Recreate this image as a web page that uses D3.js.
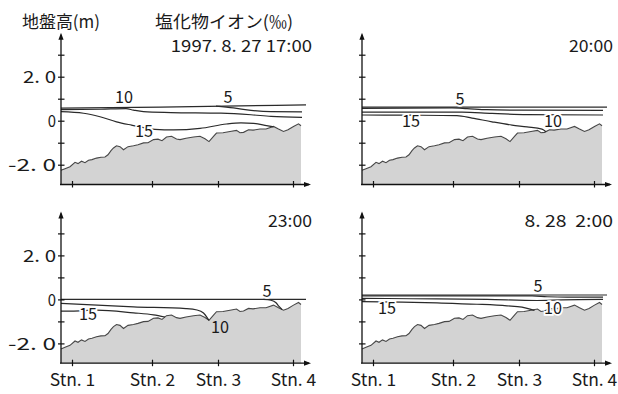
<!DOCTYPE html>
<html>
<head>
<meta charset="utf-8">
<script src="https://cdn.jsdelivr.net/npm/d3@7"></script>
<style>
  html, body { margin: 0; padding: 0; background: #fff; }
  svg { display: block; }
  text { font-family: "Noto Sans CJK JP", "Noto Sans", sans-serif; fill: #1a1a1a; white-space: pre; }
</style>
</head>
<body>
<svg id="chart" width="618" height="394"></svg>
<script>
// ---- Data -----------------------------------------------------------------
// Station positions along the section (km from the left end of the profile)
const stations = [0.22, 1.82, 3.14, 4.64];
const stationLabels = ["Stn. 1", "Stn. 2", "Stn. 3", "Stn. 4"];

// Elevation ticks (m) and the ones that carry a printed label
const yTicks = [-2, -1, 0, 1, 2, 3];
const yTickLabels = { "2": "2. 0", "0": "0", "-2": "-2. 0" };

// Observation times, one panel each
const times = ["1997. 8. 27 17:00", "20:00", "23:00", "8. 28  2:00"];

// Ground elevation along the section: [km, m]
const ground = [
  [0.00,-2.25],[0.08,-2.18],[0.18,-2.09],[0.28,-1.89],[0.34,-1.95],[0.41,-1.84],
  [0.48,-1.91],[0.55,-1.80],[0.62,-1.77],[0.71,-1.70],[0.80,-1.66],[0.88,-1.65],
  [0.94,-1.55],[1.00,-1.36],[1.05,-1.24],[1.11,-1.14],[1.18,-1.18],[1.25,-1.32],
  [1.34,-1.18],[1.45,-1.14],[1.54,-1.09],[1.65,-1.01],[1.74,-1.00],[1.85,-0.86],
  [1.94,-0.84],[2.02,-0.91],[2.11,-0.74],[2.21,-0.71],[2.31,-0.83],[2.38,-0.86],
  [2.50,-0.80],[2.65,-0.74],[2.78,-0.71],[2.88,-0.82],[2.96,-0.95],[3.05,-0.71],
  [3.11,-0.56],[3.24,-0.55],[3.38,-0.49],[3.51,-0.44],[3.58,-0.55],[3.65,-0.53],
  [3.75,-0.41],[3.84,-0.43],[3.98,-0.38],[4.10,-0.38],[4.25,-0.26],[4.35,-0.38],
  [4.45,-0.49],[4.54,-0.41],[4.65,-0.26],[4.75,-0.14],[4.80,-0.23]
];

// 1997-08-27 17:00 : water surface and chloride isolines (‰)
const surface1700 = [[0,0.57],[2.0,0.62],[4.9,0.72]];
const iso5_1700  = [[3.10,0.66],[3.45,0.58],[3.80,0.47],[4.20,0.41],[4.82,0.40]];
const iso10_1700 = [[0,0.50],[0.8,0.52],[1.30,0.55],[1.45,0.48],[1.65,0.41],[2.2,0.37],[3.2,0.34],[3.8,0.27],[4.2,0.20],[4.82,0.15]];
const iso15_1700 = [[0,0.41],[0.45,0.34],[0.78,0.18],[1.11,-0.05],[1.41,-0.20],[1.70,-0.33],[1.88,-0.39],[2.25,-0.42],[2.78,-0.35],[3.31,-0.15],[3.60,-0.10],[3.85,-0.12],[4.11,-0.22],[4.25,-0.28]];
const labels1700 = [["10",1.26,0.80],["5",3.34,0.80],["15",1.66,-0.74]];

// 20:00
const surface2000 = [[0,0.62],[4.9,0.62]];
const iso5_2000  = [[0,0.56],[1.8,0.58],[2.1,0.55],[2.5,0.50],[3.2,0.48],[4.82,0.47]];
const iso10_2000 = [[0,0.39],[2.0,0.39],[2.6,0.33],[3.3,0.28],[4.82,0.26]];
const iso15_2000 = [[0,0.26],[1.0,0.25],[1.9,0.23],[2.2,0.12],[2.6,-0.05],[3.0,-0.20],[3.3,-0.28],[3.6,-0.38],[3.68,-0.50]];
const labels2000 = [["5",1.96,0.71],["15",0.98,-0.29],["10",3.82,-0.29]];

// 23:00
const surface2300 = [[0,0],[4.9,0]];
const iso5_2300  = [[4.05,0],[4.20,-0.04],[4.30,-0.15],[4.36,-0.32],[4.42,-0.46]];
const iso10_2300 = [[0,-0.18],[1.45,-0.34],[2.5,-0.42],[2.72,-0.48],[2.85,-0.62],[2.93,-0.85],[2.96,-0.95]];
const iso15_2300 = [[0,-0.53],[0.21,-0.53],[0.71,-0.49],[1.45,-0.61],[1.85,-0.70],[2.08,-0.80]];
const labels2300 = [["5",4.12,0.10],["15",0.54,-0.94],["10",3.18,-1.53]];

// 1997-08-28 2:00
const surface0200 = [[0,0.20],[4.9,0.20]];
const iso5_0200  = [[0,0.16],[3.4,0.16],[3.7,0.12],[4.1,0.10],[4.82,0.10]];
const iso10_0200 = [[0,0.05],[1.0,0.03],[2.5,0.0],[3.5,-0.05],[4.0,-0.02],[4.82,0.0]];
const iso15_0200 = [[0,-0.10],[0.8,-0.12],[1.5,-0.16],[2.3,-0.22],[2.9,-0.29],[3.2,-0.35],[3.38,-0.45],[3.45,-0.50]];
const labels0200 = [["5",3.52,0.34],["15",0.50,-0.66],["10",3.82,-0.66]];

// ---- Layout ---------------------------------------------------------------
const panels = [
  { time: times[0], lines: [surface1700, iso5_1700, iso10_1700, iso15_1700], labels: labels1700, ox: 61,  oy: 32.7,  left: true,  bottom: false, timeY: 52 },
  { time: times[1], lines: [surface2000, iso5_2000, iso10_2000, iso15_2000], labels: labels2000, ox: 362, oy: 32.7,  left: false, bottom: false, timeY: 52 },
  { time: times[2], lines: [surface2300, iso5_2300, iso10_2300, iso15_2300], labels: labels2300, ox: 61,  oy: 211.4, left: true,  bottom: true,  timeY: 227 },
  { time: times[3], lines: [surface0200, iso5_0200, iso10_0200, iso15_0200], labels: labels0200, ox: 362, oy: 211.4, left: false, bottom: true,  timeY: 227 }
];

const FS = 17;
const GROUND_FILL = "#d3d3d3";
const yDomain = [-2.9, 4.0];
const x = d3.scaleLinear().domain([0, 4.8]).range([0, 240]);
const y = d3.scaleLinear().domain(yDomain).range([(yDomain[1] - yDomain[0]) * 22, 0]);
const groundAt = k => {
  const i = d3.bisector(d => d[0]).left(ground, k);
  if (i <= 0) return ground[0][1];
  if (i >= ground.length) return ground[ground.length - 1][1];
  const a = ground[i - 1], b = ground[i];
  return a[1] + (b[1] - a[1]) * (k - a[0]) / (b[0] - a[0]);
};

// width of a half-width string set in a monospaced gothic
const monoWidth = (s, cw, sw = cw) =>
  Array.from(s).reduce((w, ch) => w + (ch === "-" ? 15 : ch === " " ? sw : cw), 0);

const svg = d3.select("#chart");

// Headings
svg.append("text").attr("x", 22).attr("y", 28).attr("font-size", FS)
  .attr("textLength", 78).attr("lengthAdjust", "spacingAndGlyphs").text("地盤高(m)");
svg.append("text").attr("x", 155).attr("y", 28).attr("font-size", FS)
  .attr("textLength", 138).attr("lengthAdjust", "spacingAndGlyphs").text("塩化物イオン(‰)");

const area = d3.area().x(d => x(d[0])).y0(y(yDomain[0])).y1(d => y(d[1]));
const line = d3.line().x(d => x(d[0])).y(d => y(d[1])).curve(d3.curveMonotoneX);
const groundLine = d3.line().x(d => x(d[0])).y(d => y(d[1]));

panels.forEach(p => {
  const g = svg.append("g").attr("transform", `translate(${p.ox},${p.oy})`);

  // ground
  g.append("path").datum(ground).attr("d", area).attr("fill", GROUND_FILL);
  g.append("path").datum(ground).attr("d", groundLine)
    .attr("fill", "none").attr("stroke", "#474747").attr("stroke-width", 1.1);

  // water surface and isolines
  p.lines.forEach(l => {
    g.append("path").datum(l).attr("d", line)
      .attr("fill", "none").attr("stroke", "#2a2a2a").attr("stroke-width", 1.2);
  });

  // isoline labels, with a halo of whatever lies beneath them
  p.labels.forEach(([t, k, m]) => {
    const halo = (m + 0.3) > groundAt(k) ? "#fff" : GROUND_FILL;
    g.append("text").attr("x", x(k)).attr("y", y(m)).attr("font-size", FS)
      .attr("text-anchor", "middle")
      .attr("textLength", t.length * 9).attr("lengthAdjust", "spacingAndGlyphs")
      .attr("stroke", halo).attr("stroke-width", 3.5).attr("paint-order", "stroke")
      .text(t);
  });

  // y axis
  const ya = g.append("g").call(
    d3.axisLeft(y).tickValues(yTicks).tickSize(3).tickPadding(2)
      .tickFormat(d => p.left ? (yTickLabels[String(d)] || "") : "")
  );
  ya.select(".domain").remove();
  ya.selectAll(".tick line").attr("x1", 3.5).attr("stroke", "#111").attr("stroke-width", 1.2);
  ya.selectAll(".tick text").attr("font-size", FS).attr("font-family", null)
    .attr("fill", "#1a1a1a").attr("dy", "0.36em")
    .each(function () {
      const s = d3.select(this).text();
      if (s) d3.select(this).attr("textLength", monoWidth(s, 8.25)).attr("lengthAdjust", "spacingAndGlyphs");
    });
  g.append("line").attr("x1", 0).attr("x2", 0).attr("y1", y(yDomain[0])).attr("y2", y(yDomain[1]) + 2)
    .attr("stroke", "#111").attr("stroke-width", 1.3);
  g.append("path")
    .attr("d", `M0,${y(yDomain[1])} L-2.6,${y(yDomain[1]) + 7} L2.6,${y(yDomain[1]) + 7} Z`)
    .attr("fill", "#111");

  // x axis
  const y0 = y(yDomain[0]);
  const xa = g.append("g").attr("transform", `translate(0,${y0})`).call(
    d3.axisBottom(x).tickValues(stations).tickSize(3).tickPadding(8)
      .tickFormat((d, i) => p.bottom ? stationLabels[i] : "")
  );
  xa.select(".domain").remove();
  xa.selectAll(".tick line").attr("y1", -3.5).attr("stroke", "#111").attr("stroke-width", 1.2);
  xa.selectAll(".tick text").attr("font-size", FS).attr("font-family", null).attr("fill", "#1a1a1a")
    .each(function () {
      const s = d3.select(this).text();
      if (s) d3.select(this).attr("textLength", monoWidth(s, 7.6)).attr("lengthAdjust", "spacingAndGlyphs");
    });
  g.append("line").attr("x1", -1).attr("x2", x(5.0) - 2).attr("y1", y0).attr("y2", y0)
    .attr("stroke", "#111").attr("stroke-width", 1.3);
  g.append("path")
    .attr("d", `M${x(5.0)},${y0} L${x(5.0) - 7},${y0 - 2.6} L${x(5.0) - 7},${y0 + 2.6} Z`)
    .attr("fill", "#111");

  // time stamp
  g.append("text").attr("x", 251).attr("y", p.timeY - p.oy).attr("font-size", FS)
    .attr("text-anchor", "end")
    .attr("textLength", monoWidth(p.time, 8.8, 6)).attr("lengthAdjust", "spacingAndGlyphs")
    .text(p.time);
});
</script>
</body>
</html>
